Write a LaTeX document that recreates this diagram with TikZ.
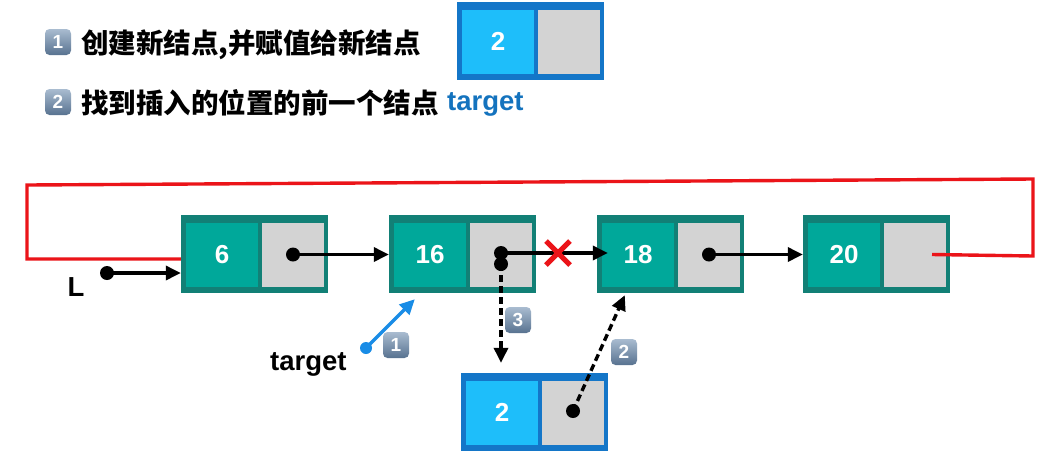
\documentclass[tikz,border=0pt]{standalone}
\usepackage{fontspec}
\setmainfont{Liberation Sans}
\newfontfamily\cjk{Noto Sans CJK SC}
\usetikzlibrary{arrows.meta}
\definecolor{tealO}{HTML}{128076}
\definecolor{tealI}{HTML}{00A89A}
\definecolor{cellgray}{HTML}{D3D3D3}
\definecolor{blueO}{HTML}{1476C8}
\definecolor{blueI}{HTML}{1EBEFA}
\definecolor{redl}{HTML}{EB1419}
\definecolor{tblue}{HTML}{1473BE}
\definecolor{arrblue}{HTML}{198CE6}
\definecolor{badgeT}{HTML}{A9BCD0}
\definecolor{badgeB}{HTML}{587290}
\newcommand\lnode[6]{%
  \node[outerbox, fill=#5] (#1) at (#2+73.5, #3+39) {};
  \node[cellbox, fill=#6, minimum width=72pt] (#1d) at (#2+41, #3+39.5) {#4};
  \node[cellbox, fill=cellgray, minimum width=62pt] (#1p) at (#2+112, #3+39.5) {};
}
\begin{document}
\begin{tikzpicture}[x=1pt,y=-1pt,
  outerbox/.style={draw=none, minimum width=147pt, minimum height=78pt, inner sep=0pt},
  cellbox/.style={minimum height=64pt, inner sep=0pt, text=white, font=\bfseries\fontsize{26}{26}\selectfont},
  ptr/.style={line width=3.4pt, -{Triangle[length=15pt,width=14pt]}},
  dashptr/.style={ptr, dash pattern=on 7pt off 4pt},
  dot/.style={circle, fill=black, minimum size=14pt, inner sep=0pt},
  bdot/.style={circle, fill=arrblue, minimum size=12pt, inner sep=0pt},
  badge/.style={rounded corners=4.5pt, minimum size=26pt, inner sep=0pt, top color=badgeT, bottom color=badgeB, text=white, font=\bfseries\fontsize{19}{19}\selectfont},
  cjktext/.style={anchor=base west, inner sep=0pt, font=\cjk\bfseries\fontsize{27.5}{27.5}\selectfont},
  lbl/.style={inner sep=0pt, font=\bfseries\fontsize{27.5}{27.5}\selectfont},
  redline/.style={draw=redl, line width=3.4pt},
]
\useasboundingbox[fill=white] (0,0) rectangle (1052,459);

% header
\node[badge] (b1) at (58,42) {1};
\node[cjktext] (t1) at (81,53) {创建新结点,并赋值给新结点};
\node[badge] (b2) at (58,102) {2};
\node[cjktext] (t2) at (81,113) {找到插入的位置的前一个结点};
\node[lbl, anchor=base west, text=tblue] (t2b) at (447,110) {target};
\lnode{top}{457}{2}{2}{blueO}{blueI}

% list nodes
\lnode{n6}{181}{215}{6}{tealO}{tealI}
\lnode{n16}{389}{215}{16}{tealO}{tealI}
\lnode{n18}{597}{215}{18}{tealO}{tealI}
\lnode{n20}{803}{215}{20}{tealO}{tealI}
\lnode{nb}{461}{373}{2}{blueO}{blueI}

% circular red link
\draw[redline] ([xshift=17pt]n20p.center) -- (1033,256) -- (1033,179) -- (27,185) -- (27,259) -- ([yshift=-5pt]n6.west);

% L pointer
\node[lbl] (L) at (76,287) {L};
\node[dot] (Ld) at (107,273) {};
\draw[ptr] (Ld.center) -- (Ld.center -| n6.west);

% next pointers
\node[dot] (d6) at (n6p.center) {};
\draw[ptr] (d6.center) -- (d6.center -| n16.west);
\node[dot] (d16) at (501,253) {};
\node[dot] (d16b) at (501,264) {};
\coordinate (t18) at ([xshift=11pt]n18.west);
\draw[ptr] (d16.center) -- (t18 |- d16.center);
\draw[draw=redl, line width=5pt] (546,241) -- (570,265) (546,265) -- (570,241);
\node[dot] (d18) at (n18p.center) {};
\draw[ptr] (d18.center) -- (d18.center -| n20.west);

% new node links
\coordinate (nbtop) at ([yshift=10pt]nb.north);
\draw[dashptr] (d16b.center) -- (nbtop -| d16b.center);
\node[dot] (db) at (573,411) {};
\coordinate (t18b) at ([xshift=28pt,yshift=-2pt]n18.south west);
\draw[dashptr] (db.center) -- (t18b);

% target
\node[lbl, anchor=base west] (tg) at (270,370) {target};
\node[bdot] (tgd) at (366,348) {};
\coordinate (t16) at ([xshift=26pt,yshift=-6pt]n16.south west);
\draw[ptr, draw=arrblue, fill=arrblue] (tgd.center) -- (t16);

% step badges
\node[badge] (c1) at (396,345) {1};
\node[badge] (c3) at (518,320) {3};
\node[badge] (c2) at (624,352) {2};
\end{tikzpicture}
\end{document}
